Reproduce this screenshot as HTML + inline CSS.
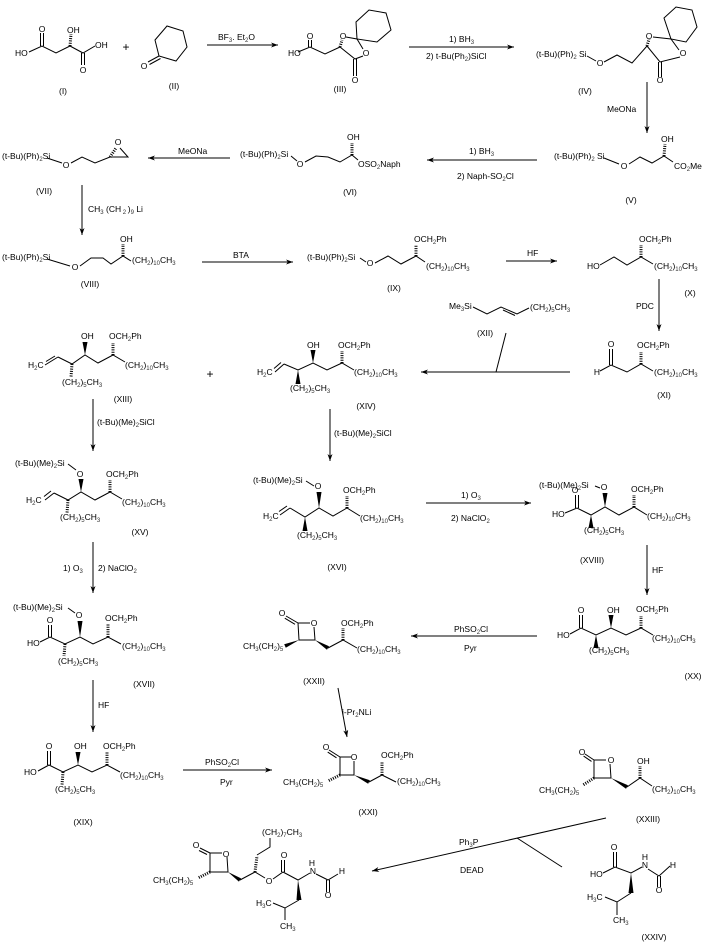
<!DOCTYPE html>
<html><head><meta charset="utf-8"><style>
html,body{margin:0;padding:0;background:#fff;}
svg{display:block;}
text{font-family:"Liberation Sans",sans-serif;font-size:8.5px;fill:#000;}
.s{font-size:6px;fill:#333;}
.m{text-anchor:middle;}
.p{font-size:12px;}
</style></head><body>
<svg width="709" height="942" viewBox="0 0 709 942" xmlns="http://www.w3.org/2000/svg">
<defs>
<marker id="ah" markerWidth="8" markerHeight="6" refX="7" refY="2.5" orient="auto" markerUnits="userSpaceOnUse"><path d="M0,0 L7,2.5 L0,5 L2,2.5 Z" fill="#000"/></marker>
</defs>
<rect width="709" height="942" fill="#fff"/>

<!-- bonds -->
<g stroke="#000" stroke-width="1" fill="none">
<!-- I -->
<path d="M29,52 L42,46 L56,53 L70,46 L83,53 L95,46"/>
<path d="M40.5,46 L40.5,33 M43.5,46 L43.5,33"/>
<path d="M81.5,53 L81.5,65 M84.5,53 L84.5,65"/>
<!-- II -->
<polygon points="155,40 167,26 183,31 187,47 176,61 159,56"/>
<path d="M159,56 L148,62 M160.5,58.5 L149.5,64.5"/>
<!-- III -->
<path d="M298,52 L310,47 L325,54 L340,47"/>
<path d="M308.5,47 L308.5,40 M311.5,47 L311.5,40"/>
<path d="M346,37 L357,39 L363,49 M363,56 L355,59 L340,47"/>
<path d="M353.5,59 L353.5,76 M356.5,59 L356.5,76"/>
<polygon points="357,39 356,22 369,10 386,13 391,30 377,42"/>
<!-- arrow 1,2 -->
<path d="M207,45 L278,45" marker-end="url(#ah)"/>
<path d="M409,47 L514,47" marker-end="url(#ah)"/>
<!-- IV -->
<path d="M587,56 L596,61"/>
<path d="M604,62 L617,55 L632,63 L647,46"/>
<path d="M653,37 L671,39 L679,50 M680,57 L660,62 L647,46"/>
<path d="M658.5,62 L658.5,77 M661.5,62 L661.5,77"/>
<polygon points="671,39 664,18 676,7 692,10 697,27 686,42"/>
<path d="M647,82 L647,133" marker-end="url(#ah)"/>
<!-- V -->
<path d="M604,158 L619,164"/>
<path d="M629,164 L640,157 L652,163 L664,156 L673,162"/>
<path d="M537,160 L427,160" marker-end="url(#ah)"/>
<!-- VI -->
<path d="M291,156 L297,161"/>
<path d="M305,162 L316,156 L328,157 L340,162 L352,155 L358,160"/>
<path d="M230,158 L148,158" marker-end="url(#ah)"/>
<!-- VII -->
<path d="M47,158 L62,163"/>
<path d="M71,163 L82,157 L95,163 L110,157 L128,157 L120,148"/>
<path d="M82,185 L82,235" marker-end="url(#ah)"/>
<!-- VIII -->
<path d="M47,259 L70,266"/>
<path d="M80,266 L91,258 L103,258 L111,264 L123,256 L131,261"/>
<path d="M202,262 L293,262" marker-end="url(#ah)"/>
<!-- IX -->
<path d="M360,258 L366,262"/>
<path d="M375,263 L388,256 L401,264 L416,256 L425,262"/>
<path d="M506,261 L557,261" marker-end="url(#ah)"/>
<!-- X -->
<path d="M600,265 L614,257 L627,265 L641,257 L653,264"/>
<path d="M659,279 L659,331" marker-end="url(#ah)"/>
<!-- XI -->
<path d="M609.5,349 L609.5,365 M612.5,349 L612.5,365"/>
<path d="M600,371 L611,365 L627,372 L641,364 L653,371"/>
<!-- XII -->
<path d="M473,307 L487,314 L501,307 L517,314 L529,308"/>
<path d="M503,310 L515,315.5"/>
<path d="M506,333 L496,372"/>
<path d="M570,372 L421,372" marker-end="url(#ah)"/>
<!-- XIII -->
<path d="M45,365 L58,357 M46,361.5 L55,356"/>
<path d="M58,357 L72,364 L85,355 L98,363 L113,355 L125,362"/>
<path d="M93,399 L93,451" marker-end="url(#ah)"/>
<!-- XIV -->
<path d="M275,372 L284,364 M274,368.5 L281,362.5"/>
<path d="M284,364 L298,370 L313,363 L327,370 L342,363 L354,370"/>
<path d="M330,409 L330,461" marker-end="url(#ah)"/>
<!-- XV -->
<path d="M68,464 L76,470"/>
<path d="M45,500 L54,493 M44,496.5 L51,491"/>
<path d="M54,493 L68,500 L81,492 L95,500 L110,492 L122,499"/>
<path d="M93,542 L93,593" marker-end="url(#ah)"/>
<!-- XVII -->
<path d="M68,608 L75,613"/>
<path d="M48.5,625 L48.5,637 M51.5,625 L51.5,637"/>
<path d="M40,642 L50,637 L65,644 L80,637 L93,644 L108,637 L121,644"/>
<path d="M93,680 L93,732" marker-end="url(#ah)"/>
<!-- XIX -->
<path d="M47.5,751 L47.5,765 M50.5,751 L50.5,765"/>
<path d="M38,771 L49,765 L63,772 L78,765 L92,772 L107,765 L120,772"/>
<path d="M183,770 L272,770" marker-end="url(#ah)"/>
<!-- XXI -->
<path d="M329,750 L340,757 M327.7,752.1 L336.5,757.8"/>
<path d="M340,757 L351,757 M354,761 L354,775 L340,775 L340,757"/>
<path d="M369,782 L382,775 L396,782"/>
<path d="M338,688 L347,737" marker-end="url(#ah)"/>
<!-- XXII -->
<path d="M286,616 L298,623 M284.8,618.2 L295,624.3"/>
<path d="M298,623 L310,623 M314,627 L315,640 L299,640 L298,623"/>
<path d="M328,648 L343,640 L357,648"/>
<path d="M537,636 L411,636" marker-end="url(#ah)"/>
<!-- XVI -->
<path d="M306,481 L314,486"/>
<path d="M280,515 L290,508 M279,511.5 L287,506"/>
<path d="M290,508 L305,517 L319,508 L333,516 L347,508 L360,516"/>
<path d="M426,503 L531,503" marker-end="url(#ah)"/>
<!-- XVIII -->
<path d="M595,486 L600,488"/>
<path d="M575.5,495 L575.5,508 M578.5,495 L578.5,508"/>
<path d="M565,513 L577,508 L591,515 L605,507 L619,515 L634,507 L647,515"/>
<path d="M647,545 L647,595" marker-end="url(#ah)"/>
<!-- XX -->
<path d="M579.5,615 L579.5,628 M582.5,615 L582.5,628"/>
<path d="M570,634 L581,628 L596,635 L611,628 L626,635 L641,628 L653,635"/>
<!-- XXIII -->
<path d="M585,754 L594,760 M583.6,756.1 L591.5,761.4"/>
<path d="M594,760 L606,760 M610,764 L611,778 L594,778 L594,760"/>
<path d="M627,787 L640,778 L652,786"/>
<!-- Mitsunobu -->
<path d="M606,818 L372,871" marker-end="url(#ah)"/>
<path d="M517,838 L562,867"/>
<!-- XXIV -->
<path d="M613.5,852 L613.5,867 M616.5,852 L616.5,867"/>
<path d="M603,873 L615,867 L631,873 L642,867"/>
<path d="M648,869 L659,876 L670,866"/>
<path d="M657.5,876 L657.5,887 M660.5,876 L660.5,887"/>
<path d="M631,893 L617,902 L605,897 M617,902 L617,915"/>
<!-- Final -->
<path d="M200,848 L210,853 M199,850.5 L207,854.5"/>
<path d="M210,853 L222,853 M227,857 L228,872 L210,872 L210,853"/>
<path d="M240,880 L255,872 L265,878"/>
<path d="M257,855 L270,847 L270,838"/>
<path d="M273,879 L283,872 L298,880 L310,873"/>
<path d="M281.5,872 L281.5,860 M284.5,872 L284.5,860"/>
<path d="M316,874 L328,880 L338,874"/>
<path d="M326.5,880 L326.5,892 M329.5,880 L329.5,892"/>
<path d="M299,900 L285,908 L273,903 M285,908 L285,920"/>
</g>

<!-- hashed bonds -->
<g stroke="#000" stroke-width="3" stroke-dasharray="1 1.3" fill="none">
<path d="M70,46 L71,34"/>
<path d="M340,47 L342,40"/>
<path d="M647,46 L649,39"/>
<path d="M664,156 L665,144"/>
<path d="M352,155 L352,143"/>
<path d="M110,157 L116,148"/>
<path d="M123,256 L123,244"/>
<path d="M416,256 L416,245"/>
<path d="M641,257 L641,245"/>
<path d="M641,364 L641,352"/>
<path d="M113,355 L113,343"/>
<path d="M72,364 L71,377"/>
<path d="M342,363 L342,351"/>
<path d="M110,492 L110,480"/>
<path d="M68,500 L67,513"/>
<path d="M108,637 L108,624"/>
<path d="M65,644 L64,656"/>
<path d="M63,772 L62,785"/>
<path d="M107,765 L107,752"/>
<path d="M340,775 L328,781"/>
<path d="M382,775 L382,762"/>
<path d="M343,640 L343,628"/>
<path d="M347,508 L347,496"/>
<path d="M634,507 L634,495"/>
<path d="M641,628 L641,616"/>
<path d="M594,778 L583,785"/>
<path d="M640,778 L640,766"/>
<path d="M210,872 L198,878"/>
<path d="M255,872 L257,856"/>
</g>

<!-- bold wedges -->
<g fill="#000" stroke="none">
<polygon points="85,355 82.5,342 87.5,342"/>
<polygon points="313,363 310.5,350 315.5,350"/>
<polygon points="298,370 295.5,384 300.5,384"/>
<polygon points="81,492 78.5,479 83.5,479"/>
<polygon points="80,637 77.5,621 82.5,621"/>
<polygon points="78,765 75.5,752 80.5,752"/>
<polygon points="354,775 368.15,783.81 369.85,780.19"/>
<polygon points="299,640 285.8,647.8 284.2,644.2"/>
<polygon points="315,640 326.95,649.7 329.05,646.3"/>
<polygon points="319,508 316.5,492 321.5,492"/>
<polygon points="305,517 302.5,531 307.5,531"/>
<polygon points="605,507 602.5,493 607.5,493"/>
<polygon points="591,515 588.5,528 593.5,528"/>
<polygon points="596,635 593.5,648 598.5,648"/>
<polygon points="611,628 608.5,615 613.5,615"/>
<polygon points="611,778 626.02,788.74 627.98,785.26"/>
<polygon points="631,873 628.5,893 633.5,893"/>
<polygon points="228,872 238.9,881.67 241.1,878.33"/>
<polygon points="298,880 296.5,900 301.5,900"/>
</g>

<!-- text -->
<!-- I -->
<text x="42" y="32" class="m">O</text>
<text x="15" y="56">HO</text>
<text x="67" y="33">OH</text>
<text x="83" y="73" class="m">O</text>
<text x="95" y="48">OH</text>
<text x="63" y="94" class="m">(I)</text>
<text x="126" y="51" class="m p">+</text>
<!-- II -->
<text x="144" y="69" class="m">O</text>
<text x="174" y="89" class="m">(II)</text>
<text x="218" y="40">BF<tspan class="s" dy="2">3</tspan><tspan dy="-2">. Et</tspan><tspan class="s" dy="2">2</tspan><tspan dy="-2">O</tspan></text>
<!-- III -->
<text x="310" y="39" class="m">O</text>
<text x="288" y="56">HO</text>
<text x="343" y="39" class="m">O</text>
<text x="366" y="56" class="m">O</text>
<text x="355" y="83" class="m">O</text>
<text x="340" y="92" class="m">(III)</text>
<text x="449" y="42">1) BH<tspan class="s" dy="2">3</tspan></text>
<text x="426" y="59">2) t-Bu(Ph<tspan class="s" dy="2">2</tspan><tspan dy="-2">)SiCl</tspan></text>
<!-- IV -->
<text x="536" y="57">(t-Bu)(Ph)<tspan class="s" dy="2">2</tspan><tspan dy="-2"> Si</tspan></text>
<text x="600" y="66" class="m">O</text>
<text x="649" y="39" class="m">O</text>
<text x="683" y="56" class="m">O</text>
<text x="660" y="83" class="m">O</text>
<text x="585" y="94" class="m">(IV)</text>
<text x="607" y="112">MeONa</text>
<!-- V -->
<text x="554" y="159">(t-Bu)(Ph)<tspan class="s" dy="2">2</tspan><tspan dy="-2"> Si</tspan></text>
<text x="624" y="169" class="m">O</text>
<text x="661" y="142">OH</text>
<text x="674" y="169">CO<tspan class="s" dy="2">2</tspan><tspan dy="-2">Me</tspan></text>
<text x="631" y="203" class="m">(V)</text>
<text x="469" y="154">1) BH<tspan class="s" dy="2">3</tspan></text>
<text x="457" y="179">2) Naph-SO<tspan class="s" dy="2">2</tspan><tspan dy="-2">Cl</tspan></text>
<!-- VI -->
<text x="240" y="157">(t-Bu)(Ph)<tspan class="s" dy="2">2</tspan><tspan dy="-2">Si</tspan></text>
<text x="300" y="167" class="m">O</text>
<text x="347" y="140">OH</text>
<text x="358" y="167">OSO<tspan class="s" dy="2">2</tspan><tspan dy="-2">Naph</tspan></text>
<text x="350" y="195" class="m">(VI)</text>
<text x="178" y="154">MeONa</text>
<!-- VII -->
<text x="2" y="159">(t-Bu)(Ph)<tspan class="s" dy="2">2</tspan><tspan dy="-2">Si</tspan></text>
<text x="66" y="168" class="m">O</text>
<text x="118" y="145" class="m">O</text>
<text x="44" y="194" class="m">(VII)</text>
<text x="88" y="212">CH<tspan class="s" dy="2">3</tspan><tspan dy="-2"> (CH</tspan><tspan class="s" dy="2"> 2 </tspan><tspan dy="-2">)</tspan><tspan class="s" dy="2">9</tspan><tspan dy="-2"> Li</tspan></text>
<!-- VIII -->
<text x="2" y="260">(t-Bu)(Ph)<tspan class="s" dy="2">2</tspan><tspan dy="-2">Si</tspan></text>
<text x="75" y="270" class="m">O</text>
<text x="120" y="242">OH</text>
<text x="132" y="263">(CH<tspan class="s" dy="2">2</tspan><tspan dy="-2">)</tspan><tspan class="s" dy="2">10</tspan><tspan dy="-2">CH</tspan><tspan class="s" dy="2">3</tspan></text>
<text x="90" y="287" class="m">(VIII)</text>
<text x="233" y="258">BTA</text>
<!-- IX -->
<text x="307" y="260">(t-Bu)(Ph)<tspan class="s" dy="2">2</tspan><tspan dy="-2">Si</tspan></text>
<text x="370" y="266" class="m">O</text>
<text x="414" y="242">OCH<tspan class="s" dy="2">2</tspan><tspan dy="-2">Ph</tspan></text>
<text x="426" y="269">(CH<tspan class="s" dy="2">2</tspan><tspan dy="-2">)</tspan><tspan class="s" dy="2">10</tspan><tspan dy="-2">CH</tspan><tspan class="s" dy="2">3</tspan></text>
<text x="394" y="291" class="m">(IX)</text>
<text x="527" y="256">HF</text>
<!-- X -->
<text x="587" y="269">HO</text>
<text x="639" y="242">OCH<tspan class="s" dy="2">2</tspan><tspan dy="-2">Ph</tspan></text>
<text x="654" y="269">(CH<tspan class="s" dy="2">2</tspan><tspan dy="-2">)</tspan><tspan class="s" dy="2">10</tspan><tspan dy="-2">CH</tspan><tspan class="s" dy="2">3</tspan></text>
<text x="690" y="296" class="m">(X)</text>
<text x="636" y="309">PDC</text>
<!-- XI -->
<text x="611" y="347" class="m">O</text>
<text x="597" y="375" class="m">H</text>
<text x="637" y="348">OCH<tspan class="s" dy="2">2</tspan><tspan dy="-2">Ph</tspan></text>
<text x="654" y="375">(CH<tspan class="s" dy="2">2</tspan><tspan dy="-2">)</tspan><tspan class="s" dy="2">10</tspan><tspan dy="-2">CH</tspan><tspan class="s" dy="2">3</tspan></text>
<text x="664" y="398" class="m">(XI)</text>
<!-- XII -->
<text x="449" y="309">Me<tspan class="s" dy="2">3</tspan><tspan dy="-2">Si</tspan></text>
<text x="530" y="310">(CH<tspan class="s" dy="2">2</tspan><tspan dy="-2">)</tspan><tspan class="s" dy="2">5</tspan><tspan dy="-2">CH</tspan><tspan class="s" dy="2">3</tspan></text>
<text x="485" y="336" class="m">(XII)</text>
<!-- XIII -->
<text x="81" y="339">OH</text>
<text x="109" y="339">OCH<tspan class="s" dy="2">2</tspan><tspan dy="-2">Ph</tspan></text>
<text x="28" y="368">H<tspan class="s" dy="2">2</tspan><tspan dy="-2">C</tspan></text>
<text x="62" y="385">(CH<tspan class="s" dy="2">2</tspan><tspan dy="-2">)</tspan><tspan class="s" dy="2">5</tspan><tspan dy="-2">CH</tspan><tspan class="s" dy="2">3</tspan></text>
<text x="125" y="368">(CH<tspan class="s" dy="2">2</tspan><tspan dy="-2">)</tspan><tspan class="s" dy="2">10</tspan><tspan dy="-2">CH</tspan><tspan class="s" dy="2">3</tspan></text>
<text x="123" y="402" class="m">(XIII)</text>
<text x="97" y="425">(t-Bu)(Me)<tspan class="s" dy="2">2</tspan><tspan dy="-2">SiCl</tspan></text>
<text x="210" y="378" class="m p">+</text>
<!-- XIV -->
<text x="307" y="348">OH</text>
<text x="338" y="348">OCH<tspan class="s" dy="2">2</tspan><tspan dy="-2">Ph</tspan></text>
<text x="257" y="375">H<tspan class="s" dy="2">2</tspan><tspan dy="-2">C</tspan></text>
<text x="290" y="391">(CH<tspan class="s" dy="2">2</tspan><tspan dy="-2">)</tspan><tspan class="s" dy="2">5</tspan><tspan dy="-2">CH</tspan><tspan class="s" dy="2">3</tspan></text>
<text x="354" y="375">(CH<tspan class="s" dy="2">2</tspan><tspan dy="-2">)</tspan><tspan class="s" dy="2">10</tspan><tspan dy="-2">CH</tspan><tspan class="s" dy="2">3</tspan></text>
<text x="366" y="409" class="m">(XIV)</text>
<text x="334" y="436">(t-Bu)(Me)<tspan class="s" dy="2">2</tspan><tspan dy="-2">SiCl</tspan></text>
<!-- XV -->
<text x="15" y="466">(t-Bu)(Me)<tspan class="s" dy="2">2</tspan><tspan dy="-2">Si</tspan></text>
<text x="80" y="477" class="m">O</text>
<text x="106" y="477">OCH<tspan class="s" dy="2">2</tspan><tspan dy="-2">Ph</tspan></text>
<text x="26" y="503">H<tspan class="s" dy="2">2</tspan><tspan dy="-2">C</tspan></text>
<text x="60" y="520">(CH<tspan class="s" dy="2">2</tspan><tspan dy="-2">)</tspan><tspan class="s" dy="2">5</tspan><tspan dy="-2">CH</tspan><tspan class="s" dy="2">3</tspan></text>
<text x="122" y="505">(CH<tspan class="s" dy="2">2</tspan><tspan dy="-2">)</tspan><tspan class="s" dy="2">10</tspan><tspan dy="-2">CH</tspan><tspan class="s" dy="2">3</tspan></text>
<text x="140" y="535" class="m">(XV)</text>
<text x="63" y="571">1) O<tspan class="s" dy="2">3</tspan></text>
<text x="98" y="571">2) NaClO<tspan class="s" dy="2">2</tspan></text>
<!-- XVII -->
<text x="13" y="610">(t-Bu)(Me)<tspan class="s" dy="2">2</tspan><tspan dy="-2">Si</tspan></text>
<text x="79" y="618" class="m">O</text>
<text x="105" y="621">OCH<tspan class="s" dy="2">2</tspan><tspan dy="-2">Ph</tspan></text>
<text x="50" y="623" class="m">O</text>
<text x="27" y="646">HO</text>
<text x="58" y="664">(CH<tspan class="s" dy="2">2</tspan><tspan dy="-2">)</tspan><tspan class="s" dy="2">5</tspan><tspan dy="-2">CH</tspan><tspan class="s" dy="2">3</tspan></text>
<text x="122" y="649">(CH<tspan class="s" dy="2">2</tspan><tspan dy="-2">)</tspan><tspan class="s" dy="2">10</tspan><tspan dy="-2">CH</tspan><tspan class="s" dy="2">3</tspan></text>
<text x="144" y="687" class="m">(XVII)</text>
<text x="98" y="708">HF</text>
<!-- XIX -->
<text x="49" y="749" class="m">O</text>
<text x="24" y="775">HO</text>
<text x="55" y="792">(CH<tspan class="s" dy="2">2</tspan><tspan dy="-2">)</tspan><tspan class="s" dy="2">5</tspan><tspan dy="-2">CH</tspan><tspan class="s" dy="2">3</tspan></text>
<text x="74" y="749">OH</text>
<text x="103" y="749">OCH<tspan class="s" dy="2">2</tspan><tspan dy="-2">Ph</tspan></text>
<text x="120" y="778">(CH<tspan class="s" dy="2">2</tspan><tspan dy="-2">)</tspan><tspan class="s" dy="2">10</tspan><tspan dy="-2">CH</tspan><tspan class="s" dy="2">3</tspan></text>
<text x="83" y="825" class="m">(XIX)</text>
<text x="205" y="765">PhSO<tspan class="s" dy="2">2</tspan><tspan dy="-2">Cl</tspan></text>
<text x="220" y="785">Pyr</text>
<!-- XXI -->
<text x="326" y="750" class="m">O</text>
<text x="354" y="760" class="m">O</text>
<text x="283" y="785">CH<tspan class="s" dy="2">3</tspan><tspan dy="-2">(CH</tspan><tspan class="s" dy="2">2</tspan><tspan dy="-2">)</tspan><tspan class="s" dy="2">5</tspan></text>
<text x="381" y="758">OCH<tspan class="s" dy="2">2</tspan><tspan dy="-2">Ph</tspan></text>
<text x="397" y="784">(CH<tspan class="s" dy="2">2</tspan><tspan dy="-2">)</tspan><tspan class="s" dy="2">10</tspan><tspan dy="-2">CH</tspan><tspan class="s" dy="2">3</tspan></text>
<text x="368" y="815" class="m">(XXI)</text>
<text x="342" y="715">i-Pr<tspan class="s" dy="2">2</tspan><tspan dy="-2">NLi</tspan></text>
<!-- XXII -->
<text x="282" y="616" class="m">O</text>
<text x="314" y="626" class="m">O</text>
<text x="243" y="649">CH<tspan class="s" dy="2">3</tspan><tspan dy="-2">(CH</tspan><tspan class="s" dy="2">2</tspan><tspan dy="-2">)</tspan><tspan class="s" dy="2">5</tspan></text>
<text x="341" y="626">OCH<tspan class="s" dy="2">2</tspan><tspan dy="-2">Ph</tspan></text>
<text x="357" y="652">(CH<tspan class="s" dy="2">2</tspan><tspan dy="-2">)</tspan><tspan class="s" dy="2">10</tspan><tspan dy="-2">CH</tspan><tspan class="s" dy="2">3</tspan></text>
<text x="314" y="684" class="m">(XXII)</text>
<text x="454" y="632">PhSO<tspan class="s" dy="2">2</tspan><tspan dy="-2">Cl</tspan></text>
<text x="464" y="651">Pyr</text>
<!-- XVI -->
<text x="253" y="483">(t-Bu)(Me)<tspan class="s" dy="2">2</tspan><tspan dy="-2">Si</tspan></text>
<text x="318" y="489" class="m">O</text>
<text x="343" y="493">OCH<tspan class="s" dy="2">2</tspan><tspan dy="-2">Ph</tspan></text>
<text x="263" y="519">H<tspan class="s" dy="2">2</tspan><tspan dy="-2">C</tspan></text>
<text x="297" y="538">(CH<tspan class="s" dy="2">2</tspan><tspan dy="-2">)</tspan><tspan class="s" dy="2">5</tspan><tspan dy="-2">CH</tspan><tspan class="s" dy="2">3</tspan></text>
<text x="360" y="521">(CH<tspan class="s" dy="2">2</tspan><tspan dy="-2">)</tspan><tspan class="s" dy="2">10</tspan><tspan dy="-2">CH</tspan><tspan class="s" dy="2">3</tspan></text>
<text x="337" y="570" class="m">(XVI)</text>
<text x="461" y="498">1) O<tspan class="s" dy="2">3</tspan></text>
<text x="451" y="521">2) NaClO<tspan class="s" dy="2">2</tspan></text>
<!-- XVIII -->
<text x="539" y="488">(t-Bu)(Me)<tspan class="s" dy="2">2</tspan><tspan dy="-2">Si</tspan></text>
<text x="604" y="490" class="m">O</text>
<text x="575" y="493" class="m">O</text>
<text x="552" y="517">HO</text>
<text x="584" y="533">(CH<tspan class="s" dy="2">2</tspan><tspan dy="-2">)</tspan><tspan class="s" dy="2">5</tspan><tspan dy="-2">CH</tspan><tspan class="s" dy="2">3</tspan></text>
<text x="631" y="492">OCH<tspan class="s" dy="2">2</tspan><tspan dy="-2">Ph</tspan></text>
<text x="647" y="519">(CH<tspan class="s" dy="2">2</tspan><tspan dy="-2">)</tspan><tspan class="s" dy="2">10</tspan><tspan dy="-2">CH</tspan><tspan class="s" dy="2">3</tspan></text>
<text x="592" y="563" class="m">(XVIII)</text>
<text x="652" y="573">HF</text>
<!-- XX -->
<text x="581" y="613" class="m">O</text>
<text x="557" y="638">HO</text>
<text x="589" y="653">(CH<tspan class="s" dy="2">2</tspan><tspan dy="-2">)</tspan><tspan class="s" dy="2">5</tspan><tspan dy="-2">CH</tspan><tspan class="s" dy="2">3</tspan></text>
<text x="607" y="613">OH</text>
<text x="636" y="612">OCH<tspan class="s" dy="2">2</tspan><tspan dy="-2">Ph</tspan></text>
<text x="652" y="641">(CH<tspan class="s" dy="2">2</tspan><tspan dy="-2">)</tspan><tspan class="s" dy="2">10</tspan><tspan dy="-2">CH</tspan><tspan class="s" dy="2">3</tspan></text>
<text x="693" y="679" class="m">(XX)</text>
<!-- XXIII -->
<text x="582" y="755" class="m">O</text>
<text x="611" y="763" class="m">O</text>
<text x="539" y="793">CH<tspan class="s" dy="2">3</tspan><tspan dy="-2">(CH</tspan><tspan class="s" dy="2">2</tspan><tspan dy="-2">)</tspan><tspan class="s" dy="2">5</tspan></text>
<text x="637" y="764">OH</text>
<text x="652" y="792">(CH<tspan class="s" dy="2">2</tspan><tspan dy="-2">)</tspan><tspan class="s" dy="2">10</tspan><tspan dy="-2">CH</tspan><tspan class="s" dy="2">3</tspan></text>
<text x="648" y="822" class="m">(XXIII)</text>
<text x="459" y="845">Ph<tspan class="s" dy="2">3</tspan><tspan dy="-2">P</tspan></text>
<text x="460" y="873">DEAD</text>
<!-- XXIV -->
<text x="614" y="850" class="m">O</text>
<text x="590" y="877">HO</text>
<text x="645" y="860" class="m">H</text>
<text x="645" y="868" class="m">N</text>
<text x="673" y="868" class="m">H</text>
<text x="659" y="893" class="m">O</text>
<text x="587" y="900">H<tspan class="s" dy="2">3</tspan><tspan dy="-2">C</tspan></text>
<text x="613" y="923">CH<tspan class="s" dy="2">3</tspan></text>
<text x="654" y="940" class="m">(XXIV)</text>
<!-- Final product -->
<text x="262" y="835">(CH<tspan class="s" dy="2">2</tspan><tspan dy="-2">)</tspan><tspan class="s" dy="2">7</tspan><tspan dy="-2">CH</tspan><tspan class="s" dy="2">3</tspan></text>
<text x="196" y="848" class="m">O</text>
<text x="226" y="857" class="m">O</text>
<text x="153" y="883">CH<tspan class="s" dy="2">3</tspan><tspan dy="-2">(CH</tspan><tspan class="s" dy="2">2</tspan><tspan dy="-2">)</tspan><tspan class="s" dy="2">5</tspan></text>
<text x="269" y="884" class="m">O</text>
<text x="284" y="858" class="m">O</text>
<text x="312" y="866" class="m">H</text>
<text x="313" y="874" class="m">N</text>
<text x="328" y="898" class="m">O</text>
<text x="342" y="874" class="m">H</text>
<text x="256" y="906">H<tspan class="s" dy="2">3</tspan><tspan dy="-2">C</tspan></text>
<text x="280" y="929">CH<tspan class="s" dy="2">3</tspan></text>
</svg>
</body></html>
